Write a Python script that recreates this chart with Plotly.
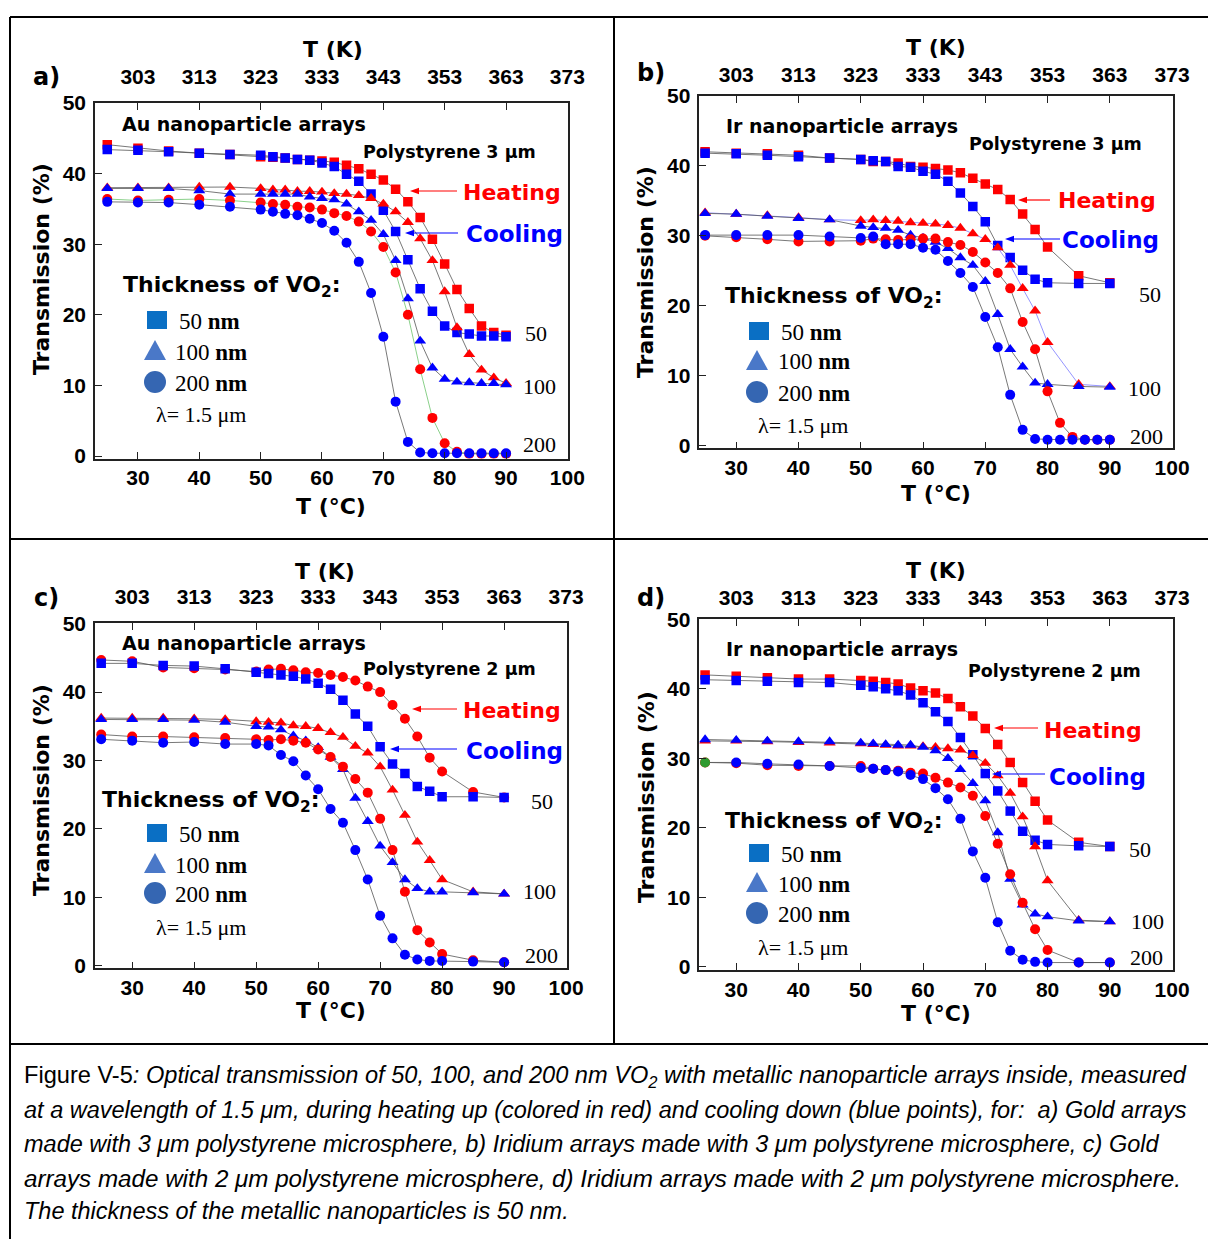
import plotly.graph_objects as go

W, H = 1208, 1239

# ---------------- data ----------------
T_LONG = [25, 30, 35, 40, 45, 50, 52, 54, 56, 58, 60, 62, 64, 66, 68, 70, 72, 74, 76, 78, 80, 82, 84, 86, 88, 90]
T_SHORT = [25, 30, 35, 40, 45, 50, 52, 54, 56, 58, 60, 62, 64, 66, 68, 70, 72, 74, 76, 78, 80, 85, 90]

C_TICKS = [30, 40, 50, 60, 70, 80, 90, 100]
K_TICKS = ["303", "313", "323", "333", "343", "353", "363", "373"]
Y_TICKS = [0, 10, 20, 30, 40, 50]

# panel a : Au, polystyrene 3 um
a_h50 = [44.1, 43.6, 43.2, 42.9, 42.7, 42.4, 42.3, 42.2, 42.0, 41.9, 41.8, 41.6, 41.2, 40.7, 39.9, 39.1, 37.8, 36.0, 33.8, 30.7, 27.2, 23.6, 20.9, 18.4, 17.5, 17.1]
a_c50 = [43.4, 43.3, 43.1, 42.9, 42.7, 42.6, 42.4, 42.2, 42.0, 41.9, 41.5, 41.0, 39.9, 38.9, 37.1, 34.8, 31.8, 27.8, 23.7, 20.5, 18.4, 17.5, 17.3, 17.0, 17.0, 16.9]
a_h100 = [38.0, 38.0, 38.0, 38.1, 38.1, 37.9, 37.7, 37.7, 37.5, 37.5, 37.4, 37.2, 37.1, 36.9, 36.5, 35.7, 34.6, 33.1, 30.8, 27.7, 23.3, 18.2, 14.4, 12.2, 11.1, 10.3]
a_c100 = [37.9, 37.9, 37.9, 37.6, 37.1, 37.1, 37.1, 37.1, 37.1, 36.7, 36.5, 36.3, 35.7, 34.6, 33.4, 31.4, 27.7, 22.3, 16.3, 12.5, 10.9, 10.5, 10.4, 10.3, 10.3, 10.1]
a_h200 = [36.4, 36.2, 36.3, 36.4, 36.2, 35.9, 35.7, 35.6, 35.3, 35.2, 34.9, 34.4, 34.0, 33.2, 31.8, 29.6, 26.0, 20.0, 12.3, 5.4, 1.8, 0.6, 0.3, 0.3, 0.3, 0.3]
a_c200 = [36.0, 35.9, 35.9, 35.6, 35.3, 34.9, 34.6, 34.3, 34.1, 33.6, 33.0, 31.9, 30.2, 27.5, 23.1, 16.9, 7.7, 2.0, 0.5, 0.4, 0.4, 0.4, 0.4, 0.4, 0.4, 0.4]

# panel b : Ir, polystyrene 3 um
b_h50 = [42.0, 41.8, 41.7, 41.5, 41.1, 40.9, 40.6, 40.6, 40.4, 39.9, 39.8, 39.6, 39.4, 39.0, 38.2, 37.4, 36.6, 35.2, 33.1, 30.9, 28.4, 24.3, 23.3]
b_c50 = [41.8, 41.7, 41.5, 41.3, 41.1, 40.9, 40.7, 40.6, 39.9, 39.8, 39.2, 38.8, 37.8, 36.1, 34.2, 32.0, 28.6, 26.9, 25.1, 23.8, 23.3, 23.2, 23.2]
b_h100 = [33.3, 33.1, 32.9, 32.6, 32.3, 32.2, 32.3, 32.2, 32.1, 31.9, 31.8, 31.7, 31.5, 31.1, 30.3, 29.5, 28.3, 25.8, 22.5, 19.3, 14.8, 8.8, 8.5]
b_c100 = [33.2, 33.1, 32.8, 32.5, 32.3, 31.4, 31.2, 31.1, 30.8, 30.1, 29.7, 29.1, 28.2, 26.9, 25.8, 23.5, 18.8, 13.8, 11.3, 9.0, 8.8, 8.5, 8.4]
b_h200 = [30.0, 29.8, 29.5, 29.2, 29.2, 29.3, 29.6, 29.5, 29.4, 29.5, 29.6, 29.6, 29.1, 28.7, 27.7, 26.2, 24.7, 22.5, 17.7, 13.8, 7.8, 3.3, 1.3, 0.9, 0.9, 0.9]
b_c200 = [30.1, 30.1, 30.1, 30.1, 29.9, 29.7, 29.9, 28.8, 28.8, 28.8, 28.3, 28.0, 26.4, 24.7, 22.7, 18.4, 14.1, 7.3, 2.3, 1.0, 0.9, 0.9, 0.9, 0.9, 0.9, 0.9]

# panel c : Au, polystyrene 2 um
c_h50 = [44.7, 44.5, 43.6, 43.5, 43.3, 43.0, 43.3, 43.4, 43.2, 42.9, 42.8, 42.5, 42.2, 41.7, 40.8, 40.0, 38.1, 36.1, 33.5, 30.4, 28.4, 25.4, 24.6]
c_c50 = [44.2, 44.2, 43.9, 43.8, 43.4, 42.9, 42.7, 42.5, 42.3, 41.9, 41.3, 40.4, 38.8, 36.8, 35.0, 32.0, 29.5, 28.1, 26.2, 25.5, 24.7, 24.7, 24.6]
c_h100 = [36.2, 36.2, 36.2, 36.1, 36.0, 35.7, 35.6, 35.5, 35.1, 35.0, 34.7, 34.1, 33.4, 32.1, 31.1, 29.1, 25.7, 22.0, 18.1, 15.4, 12.6, 10.8, 10.5]
c_c100 = [36.0, 36.0, 36.0, 35.9, 35.6, 35.0, 34.9, 34.5, 33.6, 32.9, 31.9, 30.5, 28.7, 24.5, 21.1, 17.5, 15.1, 12.6, 11.3, 10.8, 10.8, 10.7, 10.5]
c_h200 = [33.8, 33.5, 33.5, 33.4, 33.3, 33.1, 33.0, 33.1, 32.9, 32.6, 31.6, 30.5, 29.1, 27.3, 25.3, 21.5, 16.9, 10.8, 5.2, 3.4, 1.7, 0.8, 0.5]
c_c200 = [33.1, 32.9, 32.6, 32.7, 32.4, 32.4, 32.2, 30.8, 29.9, 27.8, 25.8, 22.9, 20.9, 16.9, 12.6, 7.3, 4.0, 1.6, 0.9, 0.7, 0.7, 0.6, 0.5]

# panel d : Ir, polystyrene 2 um
d_h50 = [42.0, 41.8, 41.6, 41.4, 41.4, 41.2, 41.1, 40.9, 40.7, 40.1, 39.7, 39.4, 38.6, 37.4, 36.1, 34.3, 32.0, 29.4, 26.5, 23.8, 21.1, 17.9, 17.3]
d_c50 = [41.3, 41.2, 41.1, 40.9, 40.9, 40.5, 40.3, 40.0, 39.7, 39.1, 38.0, 36.7, 35.3, 33.0, 30.5, 27.8, 25.3, 22.4, 19.5, 18.2, 17.6, 17.4, 17.3]
d_h100 = [32.5, 32.5, 32.4, 32.3, 32.2, 32.1, 32.0, 31.9, 31.8, 31.8, 31.7, 31.6, 31.4, 31.2, 30.4, 29.3, 27.5, 25.0, 21.6, 17.3, 12.4, 6.7, 6.5]
d_c100 = [32.7, 32.6, 32.5, 32.4, 32.4, 32.2, 32.1, 32.0, 31.9, 31.9, 31.6, 31.1, 30.0, 28.4, 26.4, 23.9, 19.3, 12.6, 8.9, 7.6, 7.2, 6.6, 6.5]
d_h200 = [29.4, 29.3, 29.0, 28.9, 28.9, 28.9, 28.5, 28.3, 28.2, 27.9, 27.8, 27.2, 26.5, 25.8, 24.6, 21.7, 17.7, 13.3, 9.2, 5.4, 2.4, 0.6, 0.6]
d_c200 = [29.4, 29.4, 29.2, 29.1, 28.9, 28.6, 28.5, 28.3, 28.1, 27.6, 27.0, 25.7, 24.1, 21.3, 16.6, 12.8, 6.4, 2.3, 1.0, 0.7, 0.6, 0.6, 0.6]

# ---------------- styles ----------------
RED = "#ff0000"
BLUE = "#0000ff"
GRAY = "#555555"
GREEN = "#6cc46c"
SANS = "DejaVu Sans"
ARIAL = "Liberation Sans"
SERIF = "Liberation Serif"
CAPFONT = "Liberation Sans Narrow, Arial Narrow, Liberation Sans"

MSIZE = {"square": 9.5, "triangle-up": 10.5, "circle": 10}


def px(x):
    return x / W


def py(y):
    return 1 - y / H


fig = go.Figure()

# panel geometry (pixel boxes), ranges and top-label offsets
panels = [
    dict(xa="x", ya="y", top="x5", box=(95, 568, 103, 458.5), xr=[23.0, 100.1], yr=[-0.35, 50.0], tso=14),
    dict(xa="x2", ya="y2", top="x6", box=(699.3, 1172.7, 95.7, 448.3), xr=[24.07, 100.1], yr=[-0.33, 50.0], tso=9),
    dict(xa="x3", ya="y3", top="x7", box=(95, 566.7, 623, 968.3), xr=[24.0, 100.1], yr=[-0.38, 50.1], tso=14),
    dict(xa="x4", ya="y4", top="x8", box=(699.3, 1172.7, 619.3, 970), xr=[24.07, 100.1], yr=[-0.47, 50.0], tso=9),
]

series = [
    # panel a
    [(T_LONG, a_h50, RED, "square", GRAY), (T_LONG, a_c50, BLUE, "square", GRAY),
     (T_LONG, a_h100, RED, "triangle-up", GRAY), (T_LONG, a_c100, BLUE, "triangle-up", GRAY),
     (T_LONG, a_h200, RED, "circle", GREEN), (T_LONG, a_c200, BLUE, "circle", GRAY)],
    # panel b
    [(T_SHORT, b_h50, RED, "square", GRAY), (T_SHORT, b_c50, BLUE, "square", GRAY),
     (T_SHORT, b_h100, RED, "triangle-up", "#7a7aff"), (T_SHORT, b_c100, BLUE, "triangle-up", GRAY),
     (T_LONG, b_h200, RED, "circle", GRAY), (T_LONG, b_c200, BLUE, "circle", GRAY)],
    # panel c
    [(T_SHORT, c_h50, RED, "circle", GRAY), (T_SHORT, c_c50, BLUE, "square", GRAY),
     (T_SHORT, c_h100, RED, "triangle-up", GRAY), (T_SHORT, c_c100, BLUE, "triangle-up", GRAY),
     (T_SHORT, c_h200, RED, "circle", GRAY), (T_SHORT, c_c200, BLUE, "circle", GRAY)],
    # panel d
    [(T_SHORT, d_h50, RED, "square", GRAY), (T_SHORT, d_c50, BLUE, "square", GRAY),
     (T_SHORT, d_h100, RED, "triangle-up", GRAY), (T_SHORT, d_c100, BLUE, "triangle-up", GRAY),
     (T_SHORT, d_h200, RED, "circle", GRAY), (T_SHORT, d_c200, BLUE, "circle", GRAY)],
]

for p, slist in zip(panels, series):
    for i, (tx, vals, col, sym, lcol) in enumerate(slist):
        mcol = col
        if p["xa"] == "x4" and vals is d_c200:
            mcol = ["#2f9a2f"] + [col] * (len(vals) - 1)
        fig.add_trace(go.Scatter(
            x=tx, y=vals, xaxis=p["xa"], yaxis=p["ya"], mode="lines+markers",
            line=dict(color=lcol, width=0.8),
            marker=dict(symbol=sym, size=MSIZE[sym], color=mcol, line=dict(width=0)),
            showlegend=False, hoverinfo="skip"))
    # empty trace so the top (Kelvin) axis is drawn
    fig.add_trace(go.Scatter(x=C_TICKS, y=[None] * len(C_TICKS), xaxis=p["top"], yaxis=p["ya"],
                             mode="markers", showlegend=False, hoverinfo="skip"))

layout = dict(
    width=W, height=H, margin=dict(l=0, r=0, t=0, b=0, pad=0, autoexpand=False),
    paper_bgcolor="white", plot_bgcolor="white", showlegend=False,
)

tickfont = dict(family=ARIAL, size=21, color="black", weight="bold")
for k, p in enumerate(panels):
    x0, x1, y0, y1 = p["box"]
    xd = [px(x0), px(x1)]
    yd = [py(y1), py(y0)]
    xkey = "xaxis" + ("" if k == 0 else str(k + 1))
    ykey = "yaxis" + ("" if k == 0 else str(k + 1))
    tkey = "xaxis" + p["top"][1:]
    layout[xkey] = dict(domain=xd, range=p["xr"], anchor=p["ya"], showgrid=False, zeroline=False,
                        showline=True, mirror=True, linecolor="#222", linewidth=1.5, automargin=False,
                        ticks="inside", ticklen=7, tickwidth=1.3, tickcolor="#222",
                        tickvals=C_TICKS, tickfont=tickfont, ticklabelstandoff=0)
    layout[ykey] = dict(domain=yd, range=p["yr"], anchor=p["xa"], showgrid=False, zeroline=False,
                        showline=True, mirror=True, linecolor="#222", linewidth=1.5, automargin=False,
                        ticks="inside", ticklen=7, tickwidth=1.3, tickcolor="#222",
                        tickvals=Y_TICKS, tickfont=tickfont, ticklabelstandoff=3)
    layout[tkey] = dict(overlaying=p["xa"], side="top", anchor=p["ya"], range=p["xr"], showgrid=False,
                        zeroline=False, showline=False, ticks="inside", ticklen=7, tickwidth=1.3,
                        tickcolor="#222", tickvals=C_TICKS, ticktext=K_TICKS, tickfont=tickfont,
                        ticklabelstandoff=p["tso"], automargin=False)

fig.update_layout(**layout)

ann = []
shapes = []


def txt(s, x, y, size, color="black", family=SANS, xa="left", ya="middle", angle=0):
    ann.append(dict(text=s, x=px(x), y=py(y), xref="paper", yref="paper", xanchor=xa, yanchor=ya,
                    showarrow=False, textangle=angle, font=dict(family=family, size=size, color=color)))


def arrow(hx, hy, tx, ty, color):
    # shaft
    shapes.append(dict(type="line", xref="paper", yref="paper", x0=px(hx + 6), y0=py(hy), x1=px(tx), y1=py(ty),
                       line=dict(color=color, width=1.2)))
    # left-pointing head
    shapes.append(dict(type="path", xref="paper", yref="paper",
                       path="M %f,%f L %f,%f L %f,%f Z" % (px(hx), py(hy), px(hx + 9), py(hy - 3.2),
                                                          px(hx + 9), py(hy + 3.2)),
                       fillcolor=color, line=dict(width=0)))


# per-panel text decorations
deco = [
    dict(lab="a)", lab_xy=(46, 77), tk=(333, 50), tc=(331, 506), tr=(41, 269),
         title="Au nanoparticle arrays", title_xy=(120, 124), ps="Polystyrene 3 μm", ps_xy=(361, 152),
         heat=(461, 192), heat_arr=(410, 191, 457, 191), cool=(464, 234), cool_arr=(405, 233, 458, 233),
         thick=(121, 287), leg=(157, 320, 350, 382), legx=(177, 173, 173), lam=(154, 415),
         lab50=(523, 334), lab100=(521, 387), lab200=(521, 445)),
    dict(lab="b)", lab_xy=(651, 73), tk=(936, 48), tc=(936, 494), tr=(646, 272),
         title="Ir nanoparticle arrays", title_xy=(724, 126), ps="Polystyrene 3 μm", ps_xy=(967, 144),
         heat=(1056, 200), heat_arr=(1018, 200, 1050, 200), cool=(1060, 240), cool_arr=(1005, 239, 1060, 239),
         thick=(723, 297), leg=(759, 331, 360, 392), legx=(779, 776, 776), lam=(756, 425),
         lab50=(1137, 294), lab100=(1126, 389), lab200=(1128, 436)),
    dict(lab="c)", lab_xy=(46, 598), tk=(325, 572), tc=(331, 1010), tr=(41, 790),
         title="Au nanoparticle arrays", title_xy=(120, 643), ps="Polystyrene 2 μm", ps_xy=(361, 669),
         heat=(461, 710), heat_arr=(412, 709, 457, 709), cool=(464, 751), cool_arr=(390, 749, 457, 749),
         thick=(100, 801), leg=(157, 833, 863, 893), legx=(177, 173, 173), lam=(154, 927),
         lab50=(529, 801), lab100=(521, 891), lab200=(523, 955)),
    dict(lab="d)", lab_xy=(651, 598), tk=(936, 571), tc=(936, 1013), tr=(646, 797),
         title="Ir nanoparticle arrays", title_xy=(724, 649), ps="Polystyrene 2 μm", ps_xy=(966, 671),
         heat=(1042, 730), heat_arr=(994, 728, 1038, 728), cool=(1047, 777), cool_arr=(992, 774, 1045, 774),
         thick=(723, 822), leg=(759, 853, 882, 913), legx=(779, 776, 776), lam=(756, 947),
         lab50=(1127, 849), lab100=(1129, 921), lab200=(1128, 957)),
]

for d in deco:
    txt("<b>" + d["lab"] + "</b>", *d["lab_xy"], 24, xa="center")
    txt("<b>T (K)</b>", *d["tk"], 22, xa="center")
    txt("<b>T (°C)</b>", *d["tc"], 22, xa="center")
    txt("<b>Transmission (%)</b>", *d["tr"], 22, xa="center", angle=-90)
    txt("<b>" + d["title"] + "</b>", *d["title_xy"], 19)
    txt("<b>" + d["ps"] + "</b>", *d["ps_xy"], 17.5)
    txt("<b>Heating</b>", *d["heat"], 22, color=RED)
    txt("<b>Cooling</b>", *d["cool"], 23, color=BLUE)
    arrow(*d["heat_arr"], RED)
    arrow(*d["cool_arr"], BLUE)
    txt("<b>Thickness of VO<sub>2</sub>:</b>", *d["thick"], 22)
    lx, ys, yt, yc = d["leg"]
    # legend glyphs
    shapes.append(dict(type="rect", xref="paper", yref="paper", x0=px(lx - 10), x1=px(lx + 10),
                       y0=py(ys + 9), y1=py(ys - 9), fillcolor="#0a6fc4", line=dict(width=0)))
    gx = lx - 2
    shapes.append(dict(type="path", xref="paper", yref="paper",
                       path="M %f,%f L %f,%f L %f,%f Z" % (px(gx - 11), py(yt + 10), px(gx + 11), py(yt + 10),
                                                          px(gx), py(yt - 10)),
                       fillcolor="#4a78c8", line=dict(width=0)))
    shapes.append(dict(type="circle", xref="paper", yref="paper", x0=px(lx - 13), x1=px(lx + 9),
                       y0=py(yc + 11), y1=py(yc - 11), fillcolor="#3566b2", line=dict(width=0)))
    x50, x100, x200 = d["legx"]
    txt("50 <b>nm</b>", x50, ys + 1, 23, family=SERIF)
    txt("100 <b>nm</b>", x100, yt + 2, 23, family=SERIF)
    txt("200 <b>nm</b>", x200, yc + 1, 23, family=SERIF)
    txt("λ= 1.5 μm", *d["lam"], 22, family=SERIF)
    txt("50", *d["lab50"], 22, family=SERIF)
    txt("100", *d["lab100"], 22, family=SERIF)
    txt("200", *d["lab200"], 22, family=SERIF)

# frame lines
frame = [
    (10, 17, 1208, 17), (10, 17, 10, 1239), (614, 17, 614, 1044),
    (10, 539, 1208, 539), (10, 1044, 1208, 1044),
]
for x0, y0, x1, y1 in frame:
    shapes.append(dict(type="line", xref="paper", yref="paper", x0=px(x0), y0=py(y0), x1=px(x1), y1=py(y1),
                       line=dict(color="black", width=2)))

caption = [
    "Figure V-5<i>: Optical transmission of 50, 100, and 200 nm VO<sub>2</sub> with metallic nanoparticle arrays inside, measured</i>",
    "<i>at a wavelength of 1.5 μm, during heating up (colored in red) and cooling down (blue points), for:  a) Gold arrays</i>",
    "<i>made with 3 μm polystyrene microsphere, b) Iridium arrays made with 3 μm polystyrene microsphere, c) Gold</i>",
    "<i>arrays made with 2 μm polystyrene microsphere, d) Iridium arrays made with 2 μm polystyrene microsphere.</i>",
    "<i>The thickness of the metallic nanoparticles is 50 nm.</i>",
]
cap_y = [1077, 1110, 1144, 1178, 1211]
cap_size = [23.6, 23.5, 23.5, 24.2, 23.5]
for line, yy, sz in zip(caption, cap_y, cap_size):
    txt(line, 22, yy, sz, family=CAPFONT)

fig.update_layout(annotations=ann, shapes=shapes)
fig.write_html("out.html", config={"displayModeBar": False},
               post_script="document.body.style.margin='0';document.body.style.overflow='hidden';")
